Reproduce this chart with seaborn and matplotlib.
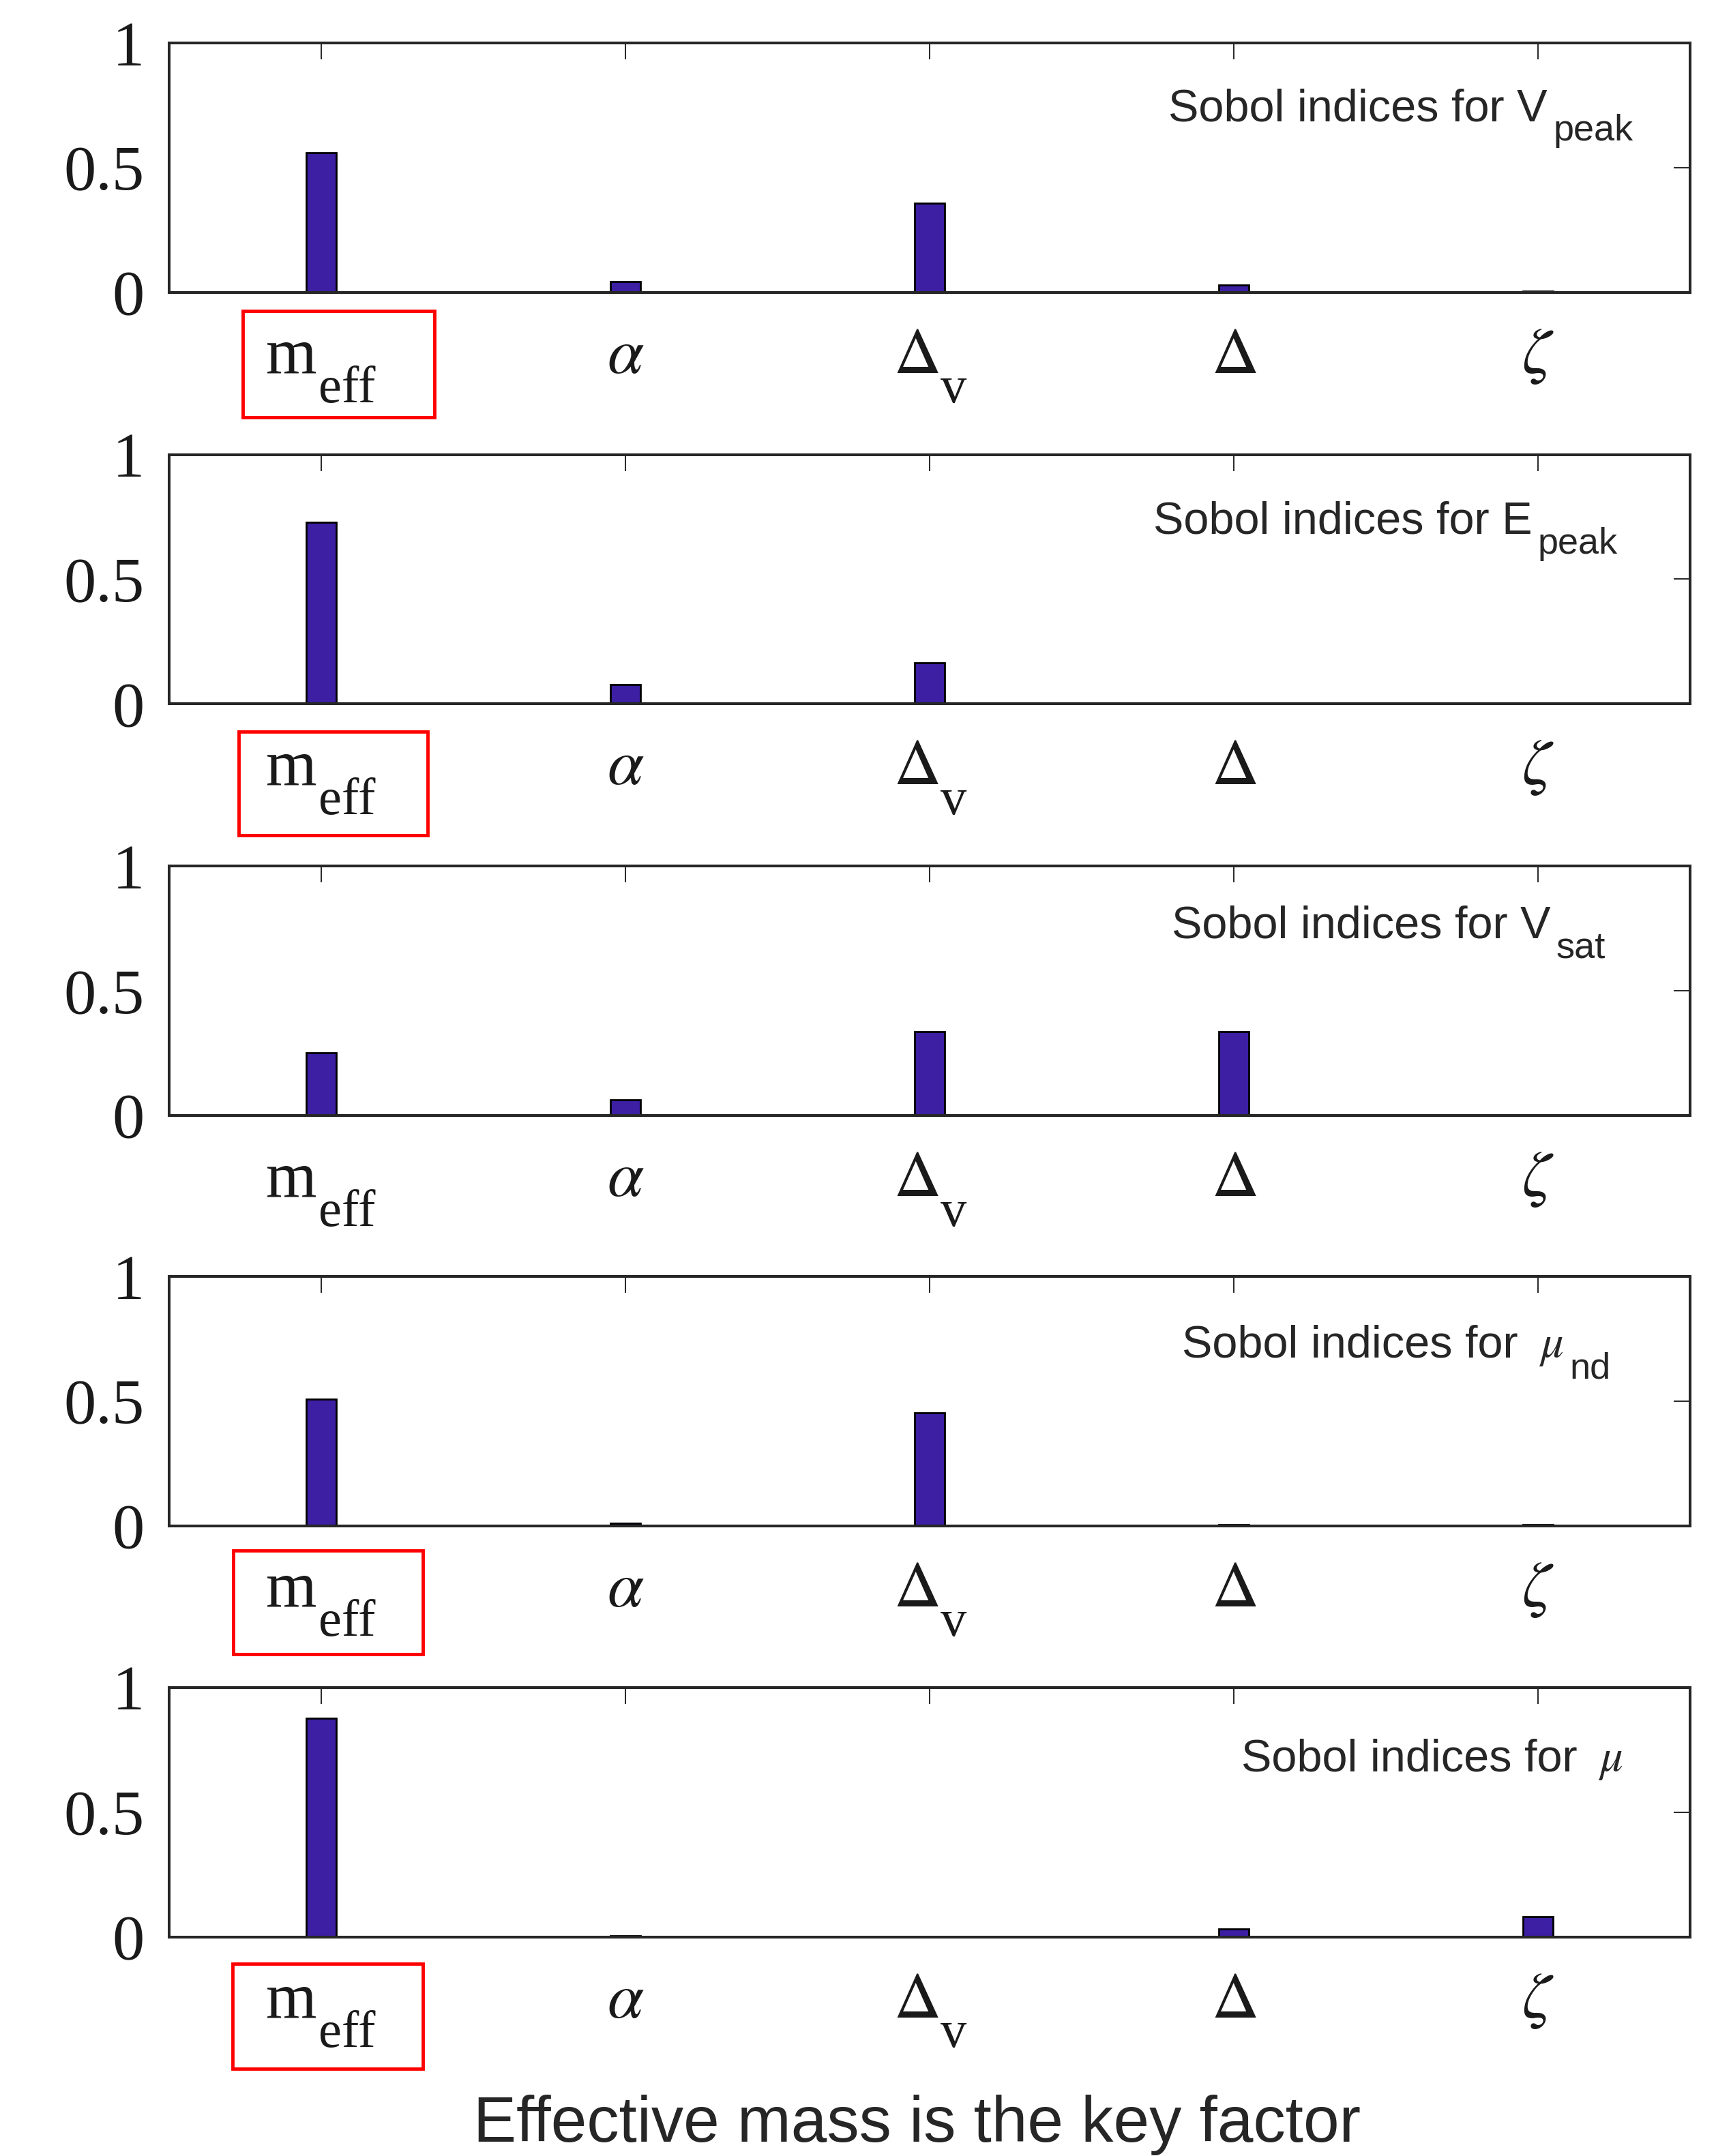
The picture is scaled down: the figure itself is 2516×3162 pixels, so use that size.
import matplotlib
matplotlib.use('Agg')
import matplotlib.pyplot as plt
import matplotlib.transforms as mtransforms
from matplotlib.patches import Rectangle
import pandas as pd
import seaborn as sns

# input parameters (x categories) and how their labels are written
params = ['m_eff', 'alpha', 'Delta_v', 'Delta', 'zeta']
label_base = ['m', r'$\alpha$', r'$\Delta$', r'$\Delta$', r'$\zeta$']
label_sub = ['eff', None, 'v', None, None]

# Sobol indices
v_peak = [0.560, 0.044, 0.357, 0.030, 0.007]
e_peak = [0.729, 0.077, 0.165, 0.005, 0.003]
v_sat = [0.252, 0.064, 0.338, 0.338, 0.004]
mu_nd = [0.508, 0.012, 0.455, 0.005, 0.005]
mu = [0.876, 0.004, 0.003, 0.032, 0.080]

# panel titles: (head, greek symbol, subscript)
titles = [
    ('Sobol indices for V', None, 'peak'),
    ('Sobol indices for E', None, 'peak'),
    ('Sobol indices for V', None, 'sat'),
    ('Sobol indices for', r'$\mu$', 'nd'),
    ('Sobol indices for', r'$\mu$', None),
]
highlight = [True, True, False, True, True]
caption = 'Effective mass is the key factor'

# layout (not data)
AX_LEFT, AX_W, AX_H = 0.0986, 0.8863, 0.1157
AX_BOTTOMS = [0.8643, 0.6735, 0.4825, 0.2922, 0.1016]
TITLE_XY = [(0.657, 0.689), (0.647, 0.683), (0.659, 0.714),
            (0.666, 0.678), (0.705, 0.666)]
BOXES = [(-0.257, 0.372, -0.074, -0.499), (-0.272, 0.350, -0.112, -0.526),
         None, (-0.290, 0.335, -0.097, -0.513),
         (-0.291, 0.334, -0.108, -0.527)]
LABEL_DX = [-0.015, 0, 0.03, 0, 0]
LABEL_Y = -0.322

BAR = '#3c1fa3'
INK = '#262626'
SANS = 'Liberation Sans'
SERIF = 'Liberation Serif'


def put_title(ax, head, symbol, sub, x, y):
    t = ax.text(x, y, head, transform=ax.transAxes, fontsize=48,
                family=SANS, ha='left', va='baseline')
    if symbol:
        t = ax.annotate(symbol, xy=(1, 0), xycoords=t, xytext=(22, 10),
                        textcoords='offset points', fontsize=48, family=SANS,
                        math_fontfamily='stix', ha='left', va='baseline')
    if sub:
        ax.annotate(sub, xy=(1, 0), xycoords=t, xytext=(6, -11),
                    textcoords='offset points', fontsize=39, family=SANS,
                    ha='left', va='baseline')


def put_xlabels(ax):
    trans = mtransforms.blended_transform_factory(ax.transData, ax.transAxes)
    for k, (base, sub) in enumerate(zip(label_base, label_sub)):
        t = ax.text(k + LABEL_DX[k], LABEL_Y, base, transform=trans,
                    fontsize=69, family=SERIF, math_fontfamily='stix',
                    ha='right' if sub else 'center', va='baseline',
                    color='#1a1a1a')
        if sub:
            ax.annotate(sub, xy=(1, 0), xycoords=t, xytext=(2, -17),
                        textcoords='offset points', fontsize=55,
                        family=SERIF, ha='left', va='baseline',
                        color='#1a1a1a')


sns.set_style('white')
plt.rcParams['mathtext.fontset'] = 'stix'
plt.rcParams['font.family'] = [SERIF, 'DejaVu Serif']

fig = plt.figure(figsize=(25.16, 31.62), dpi=100)

series = [v_peak, e_peak, v_sat, mu_nd, mu]
for i, vals in enumerate(series):
    ax = fig.add_axes([AX_LEFT, AX_BOTTOMS[i], AX_W, AX_H])
    df = pd.DataFrame({'param': params, 'value': vals})
    sns.barplot(data=df, x='param', y='value', order=params, color=BAR,
                saturation=1, width=0.1, edgecolor='black', linewidth=2,
                ax=ax)
    ax.set_xlim(-0.5, 4.5)
    ax.set_ylim(0, 1)
    ax.set_xlabel('')
    ax.set_ylabel('')
    ax.set_yticks([0, 0.5, 1])
    ax.set_yticklabels(['0', '0.5', '1'])
    for s in ax.spines.values():
        s.set_visible(True)
        s.set_color(INK)
        s.set_linewidth(2.9)
    ax.tick_params(axis='both', direction='in', length=17, width=1.4,
                   color=INK, top=True, right=True, labelsize=68,
                   labelcolor='#1a1a1a')
    ax.tick_params(axis='y', pad=26)
    ax.tick_params(axis='x', labelbottom=False)
    for lab in ax.get_yticklabels():
        lab.set_fontfamily(SERIF)
    put_xlabels(ax)

    head, symbol, sub = titles[i]
    put_title(ax, head, symbol, sub, *TITLE_XY[i])

    if highlight[i]:
        x0, x1, y0, y1 = BOXES[i]
        trans = mtransforms.blended_transform_factory(ax.transData,
                                                      ax.transAxes)
        ax.add_patch(Rectangle((x0, y1), x1 - x0, y0 - y1, transform=trans,
                               fill=False, edgecolor='#ff0000', linewidth=3.5,
                               clip_on=False))

fig.text(0.5345, 0.0066, caption, ha='center', va='baseline', fontsize=68,
         family=SANS)

fig.savefig('out.png', dpi=100, facecolor='white')
